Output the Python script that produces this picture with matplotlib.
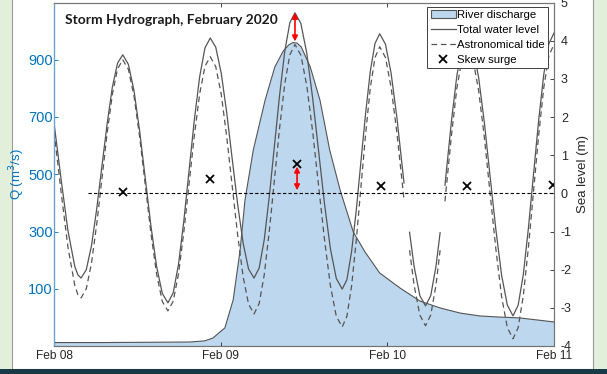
import numpy as np
import pandas as pd
import matplotlib
matplotlib.use('Agg')
import matplotlib.pyplot as plt
import matplotlib.dates as mdates
from matplotlib.patches import Rectangle, Patch
from matplotlib.lines import Line2D

plt.rcParams['font.family'] = ['Liberation Sans', 'DejaVu Sans']
plt.rcParams['axes.unicode_minus'] = False

start = pd.Timestamp('2020-02-08')

# river discharge (m3/s), time in hours after Feb 08 00:00
q_hours = [0, 6.6, 13.8, 19.6, 21.7, 22.9, 23.9, 24.6, 25.8, 26.8, 27.5, 28.7, 30.4,
           31.8, 33.0, 33.8, 34.4, 35.0, 35.6, 36.9, 38.3, 39.7, 41.2, 43.1, 44.8, 46.9, 49.8,
           52.7, 55.6, 58.5, 61.3, 64.2, 67.1, 72.0]
q_values = [-88, -88, -87, -86, -82, -72, -51, -37, 61, 235, 410, 585, 759,
            875, 930, 952, 960, 958, 945, 875, 759, 585, 445, 298, 228, 155, 103,
            57, 33, 15, 5, 1, -2, -16]

# sea level (m): total water level and astronomical tide, nan = missing record
tide_hours = [0, 0.5, 1, 2, 3, 3.45, 3.9,
              4.65, 5.4, 6.15, 6.9, 7.65, 8.4, 9.15, 9.9,
              10.71, 11.53, 12.34, 13.15, 13.96, 14.78, 15.59, 16.4,
              17.16, 17.93, 18.69, 19.45, 20.21, 20.98, 21.74, 22.5,
              23.29, 24.08, 24.86, 25.65, 26.44, 27.23, 28.01, 28.8,
              29.54, 30.28, 31.01, 31.75, 32.49, 33.23, 33.96, 34.7,
              35.55, 36.4, 37.25, 38.1, 38.95, 39.8, 40.65, 41.5,
              42.18, 42.85, 43.53, 44.2, 44.88, 45.55, 46.23, 46.9,
              47.73, 48.55, 49.38, 50.2, 50.4, 50.8, 51.2, 51.85, 52.68, 53.5,
              54.25, 55.0, 55.6, 55.95, 56.3, 56.5, 57.25, 58.0, 58.75, 59.5,
              60.33, 61.15, 61.98, 62.8, 63.63, 64.45, 65.28, 66.1,
              66.84, 67.58, 68.31, 69.05, 69.79, 70.53, 71.26, 72.0]
total_level = [1.84, 1.13, 0.40, -0.97, -1.92, -2.14, -2.22,
               -2.00, -1.37, -0.41, 0.71, 1.82, 2.78, 3.41, 3.63,
               3.38, 2.68, 1.62, 0.38, -0.86, -1.92, -2.62, -2.87,
               -2.61, -1.86, -0.73, 0.60, 1.93, 3.06, 3.81, 4.07,
               3.83, 3.15, 2.13, 0.92, -0.28, -1.30, -1.98, -2.22,
               -1.96, -1.21, -0.07, 1.26, 2.58, 3.72, 4.47, 4.73,
               4.45, 3.67, 2.49, 1.11, -0.27, -1.45, -2.23, -2.51,
               -2.26, -1.53, -0.44, 0.84, 2.11, 3.20, 3.93, 4.18,
               3.91, 3.14, 1.98, 0.61, 0.27, np.nan, -1.02, -1.91, -2.68, -2.95,
               -2.68, -1.92, -1.03, np.nan, 0.21, 0.58, 1.92, 3.07, 3.83, 4.10,
               3.82, 3.03, 1.84, 0.44, -0.95, -2.14, -2.93, -3.21,
               -2.93, -2.13, -0.92, 0.50, 1.91, 3.12, 3.92, 4.20]
astro_tide = [1.61, 0.85, 0.07, -1.40, -2.42, -2.66, -2.74,
              -2.50, -1.83, -0.81, 0.38, 1.57, 2.59, 3.26, 3.50,
              3.25, 2.54, 1.47, 0.21, -1.05, -2.12, -2.83, -3.08,
              -2.83, -2.11, -1.02, 0.25, 1.52, 2.61, 3.33, 3.58,
              3.32, 2.60, 1.50, 0.21, -1.08, -2.18, -2.90, -3.16,
              -2.89, -2.13, -0.98, 0.37, 1.72, 2.87, 3.63, 3.90,
              3.62, 2.82, 1.61, 0.20, -1.21, -2.42, -3.22, -3.50,
              -3.22, -2.43, -1.23, 0.17, 1.57, 2.77, 3.56, 3.84,
              3.56, 2.77, 1.58, 0.18, -0.17, np.nan, -1.49, -2.40, -3.19, -3.47,
              -3.19, -2.41, -1.49, np.nan, -0.21, 0.17, 1.55, 2.74, 3.52, 3.80,
              3.51, 2.69, 1.45, -0.01, -1.46, -2.70, -3.52, -3.81,
              -3.52, -2.68, -1.43, 0.05, 1.52, 2.77, 3.61, 3.90]

# skew surge at each high water (m)
surge_hours = [9.9, 22.5, 35.0, 47.1, 59.5, 71.9]
skew_surge = [0.03, 0.37, 0.76, 0.18, 0.18, 0.23]

# reference line and red arrows
ref_hours = [4.9, 72.0]
ref_level = [0, 0]
arrow_hours = [34.7, 35.0]
arrow_from = [4.73, 0.70]
arrow_to = [3.98, 0.08]

def to_time(h):
    return start + pd.to_timedelta(np.asarray(h, dtype=float), unit='h')

fig = plt.figure(figsize=(6.07, 3.74), dpi=100)
fig.patch.set_facecolor('#e2efda')
fig.patches.append(Rectangle((12 / 607, 5 / 374), 581 / 607, 1.0, transform=fig.transFigure,
                             facecolor='white', edgecolor='#9a9a9a', lw=0.8, zorder=-10))
fig.patches.append(Rectangle((0, 0), 1, 5 / 374, transform=fig.transFigure,
                             facecolor='#183946', edgecolor='none', zorder=-9))

ax = fig.add_axes([54 / 607, 28 / 374, 500 / 607, 343.5 / 374])
ax.set_facecolor('none')
ax2 = ax.twinx()

blue = '#0072BD'
grey = '#555555'

# discharge
qt = to_time(q_hours)
ax.fill_between(qt, q_values, -100, facecolor='#bdd7ee', edgecolor='none')
ax.plot(qt, q_values, color=grey, lw=0.8)
ax.set_ylim(-100, 1100)
ax.set_yticks([100, 300, 500, 700, 900])
ax.set_ylabel('Q (m$^3$/s)', color=blue, fontsize=9.5)
ax.yaxis.set_label_coords(-0.054, 0.5)

# sea level
tt = to_time(tide_hours)
ax2.plot(tt, total_level, color=grey, lw=0.9)
ax2.plot(tt, astro_tide, color=grey, lw=0.9, linestyle=(0, (4.5, 3)))
ax2.plot(to_time(ref_hours), ref_level, color='black', lw=0.8, linestyle=(0, (3, 2)))
ax2.plot(to_time(surge_hours), skew_surge, 'x', color='black', ms=6, mew=1.3)
for h, a, b in zip(arrow_hours, arrow_from, arrow_to):
    x = mdates.date2num(to_time([h])[0])
    ax2.annotate('', xy=(x, b), xytext=(x, a),
                 arrowprops=dict(arrowstyle='<|-|>', color='red', lw=1.2,
                                 mutation_scale=8, shrinkA=0, shrinkB=0))
ax2.set_ylim(-4, 5)
ax2.set_yticks(range(-4, 6))
ax2.set_ylabel('Sea level (m)', color='#262626', fontsize=9.5)
ax2.yaxis.set_label_coords(1.046, 0.5)

ax.set_xlim(start, start + pd.Timedelta(days=3))
ax.xaxis.set_major_locator(mdates.DayLocator())
ax.xaxis.set_major_formatter(mdates.DateFormatter('%b %d'))

ax.tick_params(axis='x', direction='in', length=3, width=0.6, colors='#262626',
               labelsize=8.6, pad=3, top=True)
ax.tick_params(axis='y', direction='in', length=3, width=0.6, colors=blue,
               labelsize=10.5, pad=1)
ax2.tick_params(axis='y', direction='in', length=3, width=0.6, colors='#262626',
                labelsize=9, pad=5)

for s in ['top', 'bottom', 'right']:
    ax2.spines[s].set_color('#777777')
    ax2.spines[s].set_linewidth(0.7)
ax2.spines['left'].set_color('#5fa4d6')
ax2.spines['left'].set_linewidth(0.8)

ax.text(0.022, 0.949, 'Storm Hydrograph, February 2020', transform=ax.transAxes,
        fontsize=9.9, fontweight='bold', family='Lato', va='center', color='#1a1a1a')

handles = [Patch(facecolor='#bdd7ee', edgecolor=grey, lw=0.8),
           Line2D([], [], color=grey, lw=0.9),
           Line2D([], [], color=grey, lw=0.9, linestyle=(0, (4.5, 3))),
           Line2D([], [], color='black', marker='x', ls='none', ms=6, mew=1.3)]
labels = ['River discharge', 'Total water level', 'Astronomical tide', 'Skew surge']
leg = ax2.legend(handles, labels, loc='upper right', bbox_to_anchor=(0.988, 0.987),
                 borderaxespad=0, fontsize=8.2, frameon=True, fancybox=False,
                 framealpha=1, edgecolor='#404040', handlelength=2.2,
                 handletextpad=0.1, labelspacing=0.42, borderpad=0.3)
leg.get_frame().set_linewidth(0.7)

fig.savefig('out.png', dpi=100)
